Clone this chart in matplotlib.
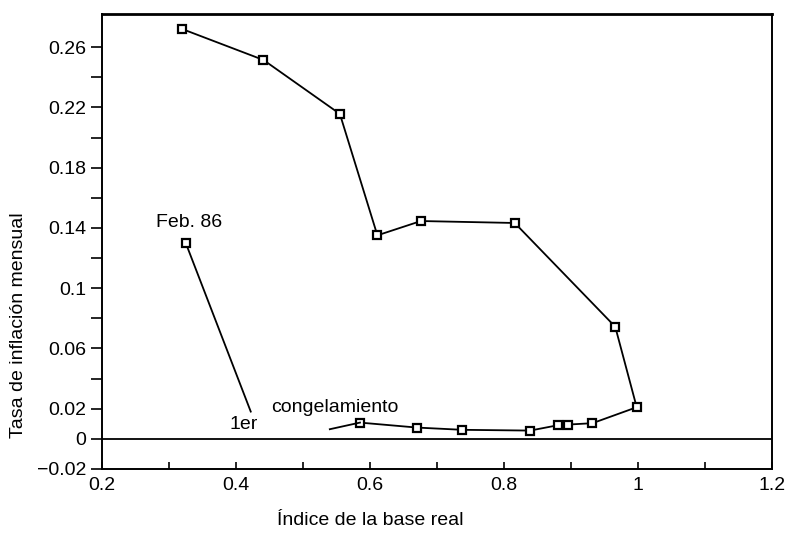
import matplotlib
matplotlib.use("Agg")
import matplotlib.pyplot as plt
from matplotlib.ticker import FixedLocator

# Main path (real base index vs. monthly inflation)
base_real = [0.320, 0.441, 0.555, 0.611, 0.676, 0.816, 0.966, 0.998,
             0.932, 0.896, 0.881, 0.839, 0.738, 0.670, 0.585]
inflacion = [0.272, 0.2515, 0.2157, 0.1351, 0.1446, 0.1433, 0.0744, 0.0210,
             0.0104, 0.0095, 0.0091, 0.0055, 0.0060, 0.0075, 0.0108]
# tail of the main line (no marker)
tail_x = [0.585, 0.540]
tail_y = [0.0108, 0.0064]

# Feb. 86 segment
feb_x = [0.325, 0.422]
feb_y = [0.130, 0.0181]

ytick_labels = [-0.02, 0, 0.02, 0.06, 0.1, 0.14, 0.18, 0.22, 0.26]
xtick_labels = [0.2, 0.4, 0.6, 0.8, 1, 1.2]

plt.rcParams['font.family'] = ['Liberation Sans', 'DejaVu Sans']

fig = plt.figure(figsize=(7.87, 5.40), dpi=100)
ax = fig.add_axes([0.1296, 0.1315, 0.8514, 0.8425])

mk = dict(marker="s", markersize=5.5, markerfacecolor="white",
          markeredgecolor="black", markeredgewidth=1.6)

ax.plot(base_real, inflacion, color="black", linewidth=1.3, **mk)
ax.plot(tail_x, tail_y, color="black", linewidth=1.3)
ax.plot(feb_x, feb_y, color="black", linewidth=1.3)
ax.plot(feb_x[:1], feb_y[:1], color="black", linestyle="none", **mk)

ax.axhline(0, color="black", linewidth=1.3)

ax.set_xlim(0.2, 1.2)
ax.set_ylim(-0.02, 0.282)

# y ticks every 0.02, labelled only at selected values
yt = [round(-0.02 + 0.02 * i, 2) for i in range(15)]
ax.yaxis.set_major_locator(FixedLocator(yt))
ax.set_yticklabels([("%g" % v).replace("-", "\u2212") if v in ytick_labels else "" for v in yt])
ax.tick_params(axis="y", direction="out", length=8, width=1.2, labelsize=14)

xt = [round(0.2 + 0.1 * i, 1) for i in range(11)]
ax.xaxis.set_major_locator(FixedLocator(xt))
ax.set_xticklabels(["%g" % v if v in xtick_labels else "" for v in xt])
ax.tick_params(axis="x", direction="in", length=5, width=1.2, labelsize=14, pad=6)

for s in ax.spines.values():
    s.set_linewidth(1.4)
ax.spines["top"].set_linewidth(2.0)

ax.text(0.28, 0.138, "Feb. 86", fontsize=14, ha="left", va="bottom")
ax.text(0.39, 0.0093, "1er", fontsize=14, ha="left", va="center")
ax.text(0.452, 0.0205, "congelamiento", fontsize=14, ha="left", va="center")

fig.text(0.023, 0.398, "Tasa de inflación mensual", rotation=90,
         fontsize=14, ha="center", va="center")
fig.text(0.47, 0.037, "Índice de la base real", fontsize=14,
         ha="center", va="center")

fig.savefig("out.png", dpi=100)
